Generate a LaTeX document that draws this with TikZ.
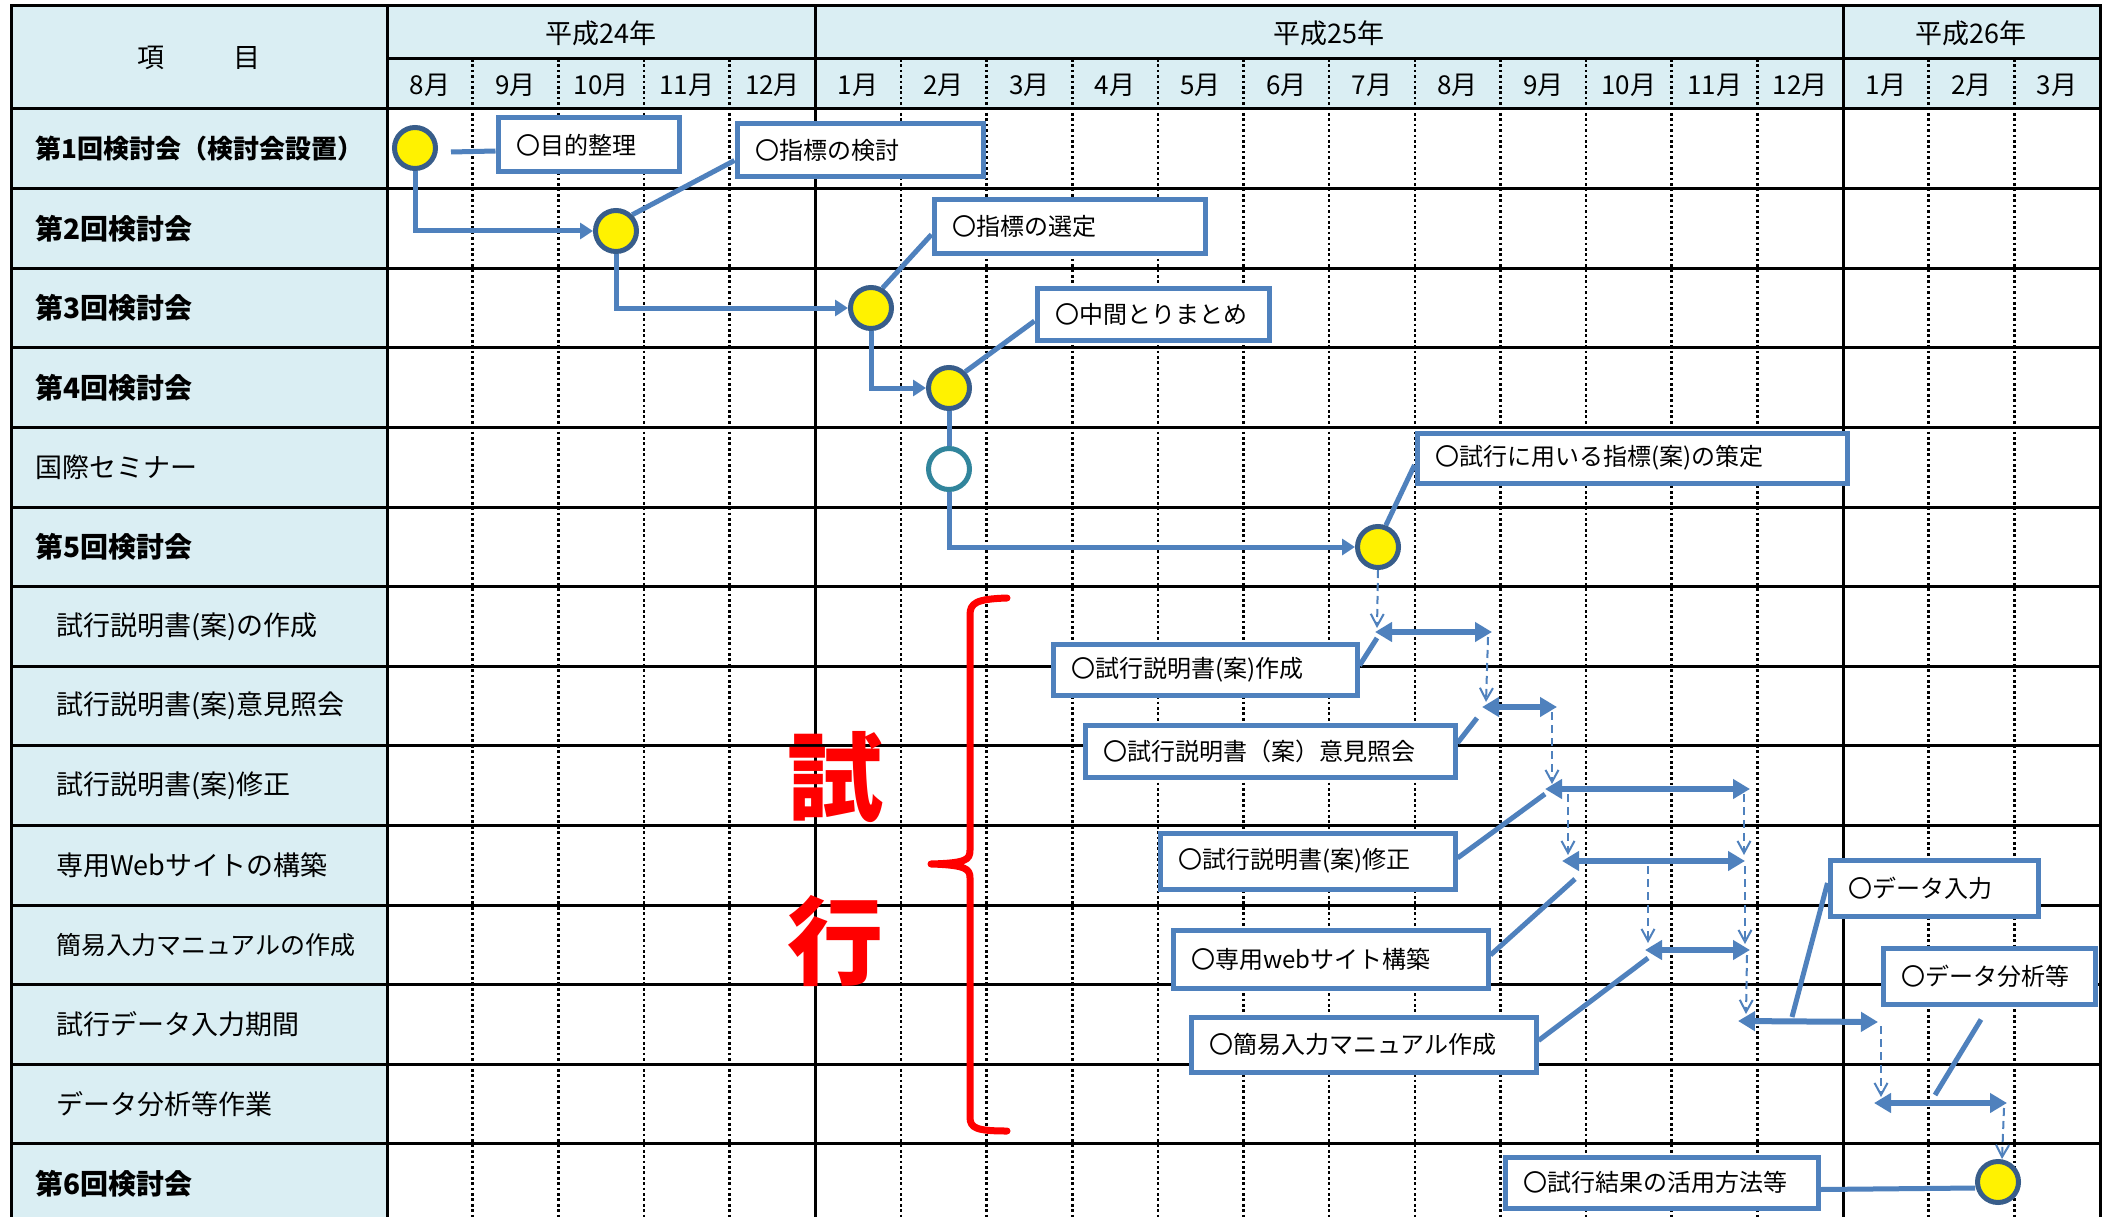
\documentclass[tikz,border=0pt]{standalone}
\usepackage{fontspec}
\setmainfont{Noto Sans CJK JP}
\usetikzlibrary{arrows.meta,calc}
\definecolor{hdr}{HTML}{DAEEF3}
\definecolor{blueA}{HTML}{4F81BD}
\definecolor{circB}{HTML}{385D8A}
\definecolor{tealC}{HTML}{31859C}
\pgfdeclarelayer{gridlayer}
\pgfdeclarelayer{links}
\pgfsetlayers{gridlayer,links,main}
\tikzset{
  gridsolid/.style={line width=3pt, black, line cap=rect},
  griddot/.style={line width=2.6pt, black, dash pattern=on 2.7pt off 2.7pt},
  milestone/.style={circle, draw=circB, line width=5pt, fill=yellow, minimum size=41pt, inner sep=0pt},
  eventcircle/.style={milestone, draw=tealC, fill=white},
  calloutbox/.style={draw=blueA, line width=5pt, fill=white, anchor=north west, inner xsep=18pt, inner ysep=0pt, align=left, font=\fontsize{24}{28}\selectfont},
  leaderline/.style={draw=blueA, line width=5pt},
  elbow/.style={draw=blueA, line width=5pt, -{Triangle[length=13pt,width=16pt]}},
  spanarrow/.style={draw=blueA, line width=6pt, {Triangle[length=17pt,width=19pt]}-{Triangle[length=17pt,width=19pt]}},
  flowarrow/.style={draw=blueA, line width=2pt, dash pattern=on 8pt off 5pt, -{Straight Barb[length=12pt,width=13pt]}},
  rowlab/.style={anchor=west, inner sep=0pt, font=\fontsize{27}{31}\selectfont},
  rowlabb/.style={rowlab, font=\bfseries\fontsize{28}{32}\selectfont},
  monthlab/.style={inner sep=0pt, font=\fontsize{26}{30}\selectfont},
  yearlab/.style={inner sep=0pt, font=\fontsize{27}{31}\selectfont},
  trialtxt/.style={inner sep=0pt, text=red, font=\bfseries\fontsize{96}{100}\selectfont},
  bracestyle/.style={draw=red, line width=7pt, line cap=round, line join=round}
}
\begin{document}
\begin{tikzpicture}[x=1pt,y=-1pt]
\useasboundingbox (0,0) rectangle (2107,1217);

% ---------- grid ----------
\begin{pgfonlayer}{gridlayer}
\fill[white] (0,0) rectangle (2107,1217);
\fill[hdr] (11,6) rectangle (2100,109);
\fill[hdr] (11,109) rectangle (387,1230);
\foreach \k in {1,2,3,4,6,7,8,9,10,11,12,13,14,15,16,18,19}
  \draw[griddot] ({387+85.65*\k},59) -- ({387+85.65*\k},1230);
\draw[gridsolid] (11,6) -- (2100,6);
\draw[gridsolid] (387,59) -- (2100,59);
\draw[gridsolid] (11,109) -- (2100,109);
\foreach \k in {1,...,13}
  \draw[gridsolid] (11,{109+79.6*\k}) -- (2100,{109+79.6*\k});
\foreach \x in {11,387,815.25,1843,2100}
  \draw[gridsolid] (\x,6) -- (\x,1230);
\end{pgfonlayer}

% ---------- header ----------
\node[yearlab] (hitem) at (199,58) {項\hspace{69pt}目};
\node[yearlab] (y24) at (601,33) {平成24年};
\node[yearlab] (y25) at (1329,33) {平成25年};
\node[yearlab] (y26) at (1971,33) {平成26年};
\foreach \m [count=\k from 0] in {8,9,10,11,12,1,2,3,4,5,6,7,8,9,10,11,12,1,2,3}
  \node[monthlab] (mo\k) at ({387+85.65*(\k+0.5)},85) {\m 月};

% ---------- row labels ----------
\node[rowlabb, font=\bfseries\fontsize{26}{30}\selectfont] (r0) at (35,148.8) {第1回検討会（検討会設置）};
\node[rowlabb] (r1) at (35,228.4) {第2回検討会};
\node[rowlabb] (r2) at (35,308) {第3回検討会};
\node[rowlabb] (r3) at (35,387.6) {第4回検討会};
\node[rowlab] (r4) at (35,467.2) {国際セミナー};
\node[rowlabb] (r5) at (35,546.8) {第5回検討会};
\node[rowlab] (r6) at (56,626.4) {試行説明書(案)の作成};
\node[rowlab] (r7) at (56,706) {試行説明書(案)意見照会};
\node[rowlab] (r8) at (56,785.6) {試行説明書(案)修正};
\node[rowlab] (r9) at (56,865.2) {専用Webサイトの構築};
\node[rowlab, font=\fontsize{25}{29}\selectfont] (r10) at (56,944.8) {簡易入力マニュアルの作成};
\node[rowlab] (r11) at (56,1024.4) {試行データ入力期間};
\node[rowlab] (r12) at (56,1104) {データ分析等作業};
\node[rowlabb] (r13) at (35,1183.6) {第6回検討会};

% ---------- milestones ----------
\node[milestone] (m1) at (415,148) {};
\node[milestone] (m2) at (616,231) {};
\node[milestone] (m3) at (871,308) {};
\node[milestone] (m4) at (949,388) {};
\node[eventcircle] (m5) at (949,469) {};
\node[milestone] (m6) at (1378,547) {};
\node[milestone] (m7) at (1998,1182) {};

% ---------- callout boxes ----------
\node[calloutbox, text width=145pt, minimum height=54pt] (ba) at (495.5,115.5) {〇目的整理};
\node[calloutbox, text width=210pt, minimum height=53pt] (bb) at (734.5,121.5) {〇指標の検討};
\node[calloutbox, text width=235pt, minimum height=53pt] (bc) at (931.5,197.5) {〇指標の選定};
\node[calloutbox, text width=196pt, minimum height=52pt] (bd) at (1034.5,285.5) {〇中間とりまとめ};
\node[calloutbox, text width=394pt, minimum height=50pt] (be) at (1414.5,430.5) {〇試行に用いる指標(案)の策定};
\node[calloutbox, text width=268pt, minimum height=51pt] (bf) at (1050.5,641.5) {〇試行説明書(案)作成};
\node[calloutbox, text width=334pt, minimum height=52pt] (bg) at (1082.5,722.5) {〇試行説明書（案）意見照会};
\node[calloutbox, text width=259pt, minimum height=56pt] (bh) at (1157.5,830.5) {〇試行説明書(案)修正};
\node[calloutbox, text width=279pt, minimum height=58pt] (bi) at (1170.5,927.5) {〇専用webサイト構築};
\node[calloutbox, text width=309pt, minimum height=55pt] (bj) at (1188.5,1014.5) {〇簡易入力マニュアル作成};
\node[calloutbox, text width=172pt, minimum height=56pt] (bk) at (1827.5,857.5) {〇データ入力};
\node[calloutbox, text width=176pt, minimum height=56pt] (bl) at (1880.5,945.5) {〇データ分析等};
\node[calloutbox, text width=277pt, minimum height=51pt] (bm) at (1502.5,1154.5) {〇試行結果の活用方法等};

% ---------- trial label ----------
\node[trialtxt] (t1) at (835,777) {試};
\node[trialtxt] (t2) at (835,941) {行};

% ---------- span arrow end points ----------
\coordinate (A1l) at (1375,632);  \coordinate (A1r) at (1492,632);
\coordinate (A2l) at (1482,707);  \coordinate (A2r) at (1557,707);
\coordinate (A3l) at (1545,789);  \coordinate (A3r) at (1750,789);
\coordinate (A4l) at (1562,861);  \coordinate (A4r) at (1745,861);
\coordinate (A5l) at (1645,950);  \coordinate (A5r) at (1750,950);
\coordinate (A6l) at (1738,1021); \coordinate (A6r) at (1878,1022);
\coordinate (A7l) at (1874,1103); \coordinate (A7r) at (2007,1103);

% dashed flow end points
\coordinate (d1s) at (1488,637);  \coordinate (d1e) at (1486,702);
\coordinate (d2s) at (1552,712);  \coordinate (d2e) at (1552,784);
\coordinate (d3s) at (1568,794);  \coordinate (d3e) at (1568,855);
\coordinate (d4s) at (1744,794);  \coordinate (d4e) at (1744,855);
\coordinate (d5s) at (1648,866);  \coordinate (d5e) at (1648,943);
\coordinate (d6s) at (1745,866);  \coordinate (d6e) at (1745,944);
\coordinate (d7s) at (1747,955);  \coordinate (d7e) at (1746,1014);
\coordinate (d8s) at (1881,1026); \coordinate (d8e) at (1881,1097);
\coordinate (d9s) at (2004,1108);

% leader line free ends
\coordinate (lfA) at (1377,638);
\coordinate (lgA) at (1477,718);
\coordinate (lhA) at (1545,794);
\coordinate (liA) at (1575,879);
\coordinate (ljA) at (1648,958);
\coordinate (lkA) at (1792,1017);
\coordinate (llA) at (1935,1095);

\begin{pgfonlayer}{links}
% elbow connectors
\draw[elbow] (m1.south) |- (m2.west);
\draw[elbow] (m2.south) |- (m3.west);
\draw[elbow] (m3.south) |- (m4.west);
\draw[leaderline] (m4.south) -- (m5.north);
\draw[elbow] (m5.south) |- (m6.west);

% leader lines
\draw[leaderline] ([xshift=13pt,yshift=-4pt]m1.east) -- ([yshift=-6pt]ba.west);
\draw[leaderline] (m2.north east) -- ([yshift=-10pt]bb.west);
\draw[leaderline] (m3.60) -- ([yshift=-8pt]bc.west);
\draw[leaderline] (m4.north east) -- ([yshift=-7pt]bd.west);
\draw[leaderline] (m6.70) -- ([yshift=-7pt]be.west);
\draw[leaderline] ([yshift=4pt]bf.east) -- (lfA);
\draw[leaderline] ([yshift=8pt]bg.east) -- (lgA);
\draw[leaderline] ([yshift=3pt]bh.east) -- (lhA);
\draw[leaderline] ([yshift=4pt]bi.east) -- (liA);
\draw[leaderline] ([yshift=4pt]bj.east) -- (ljA);
\draw[leaderline] ([yshift=5pt]bk.west) -- (lkA);
\draw[leaderline] ([xshift=-8pt,yshift=-13pt]bl.south) -- (llA);
\draw[leaderline] ([yshift=-7pt]bm.east) -- ([yshift=-6pt]m7.west);

% span arrows
\draw[spanarrow] (A1l) -- (A1r);
\draw[spanarrow] (A2l) -- (A2r);
\draw[spanarrow] (A3l) -- (A3r);
\draw[spanarrow] (A4l) -- (A4r);
\draw[spanarrow] (A5l) -- (A5r);
\draw[spanarrow] (A6l) -- (A6r);
\draw[spanarrow] (A7l) -- (A7r);

% dashed flow arrows
\draw[flowarrow] (m6.south) -- ([xshift=2pt,yshift=4pt]A1l);
\draw[flowarrow] (d1s) -- (d1e);
\draw[flowarrow] (d2s) -- (d2e);
\draw[flowarrow] (d3s) -- (d3e);
\draw[flowarrow] (d4s) -- (d4e);
\draw[flowarrow] (d5s) -- (d5e);
\draw[flowarrow] (d6s) -- (d6e);
\draw[flowarrow] (d7s) -- (d7e);
\draw[flowarrow] (d8s) -- (d8e);
\draw[flowarrow] (d9s) -- ([xshift=4pt]m7.north);

% red brace
\draw[bracestyle] (1007,598) .. controls (976,599) and (970,603) .. (970,615)
  -- (970,850) .. controls (970,860) and (966,863) .. (931,864)
  .. controls (966,865) and (970,869) .. (970,878)
  -- (970,1117) .. controls (970,1128) and (976,1131) .. (1007,1131);
\end{pgfonlayer}
\end{tikzpicture}
\end{document}
